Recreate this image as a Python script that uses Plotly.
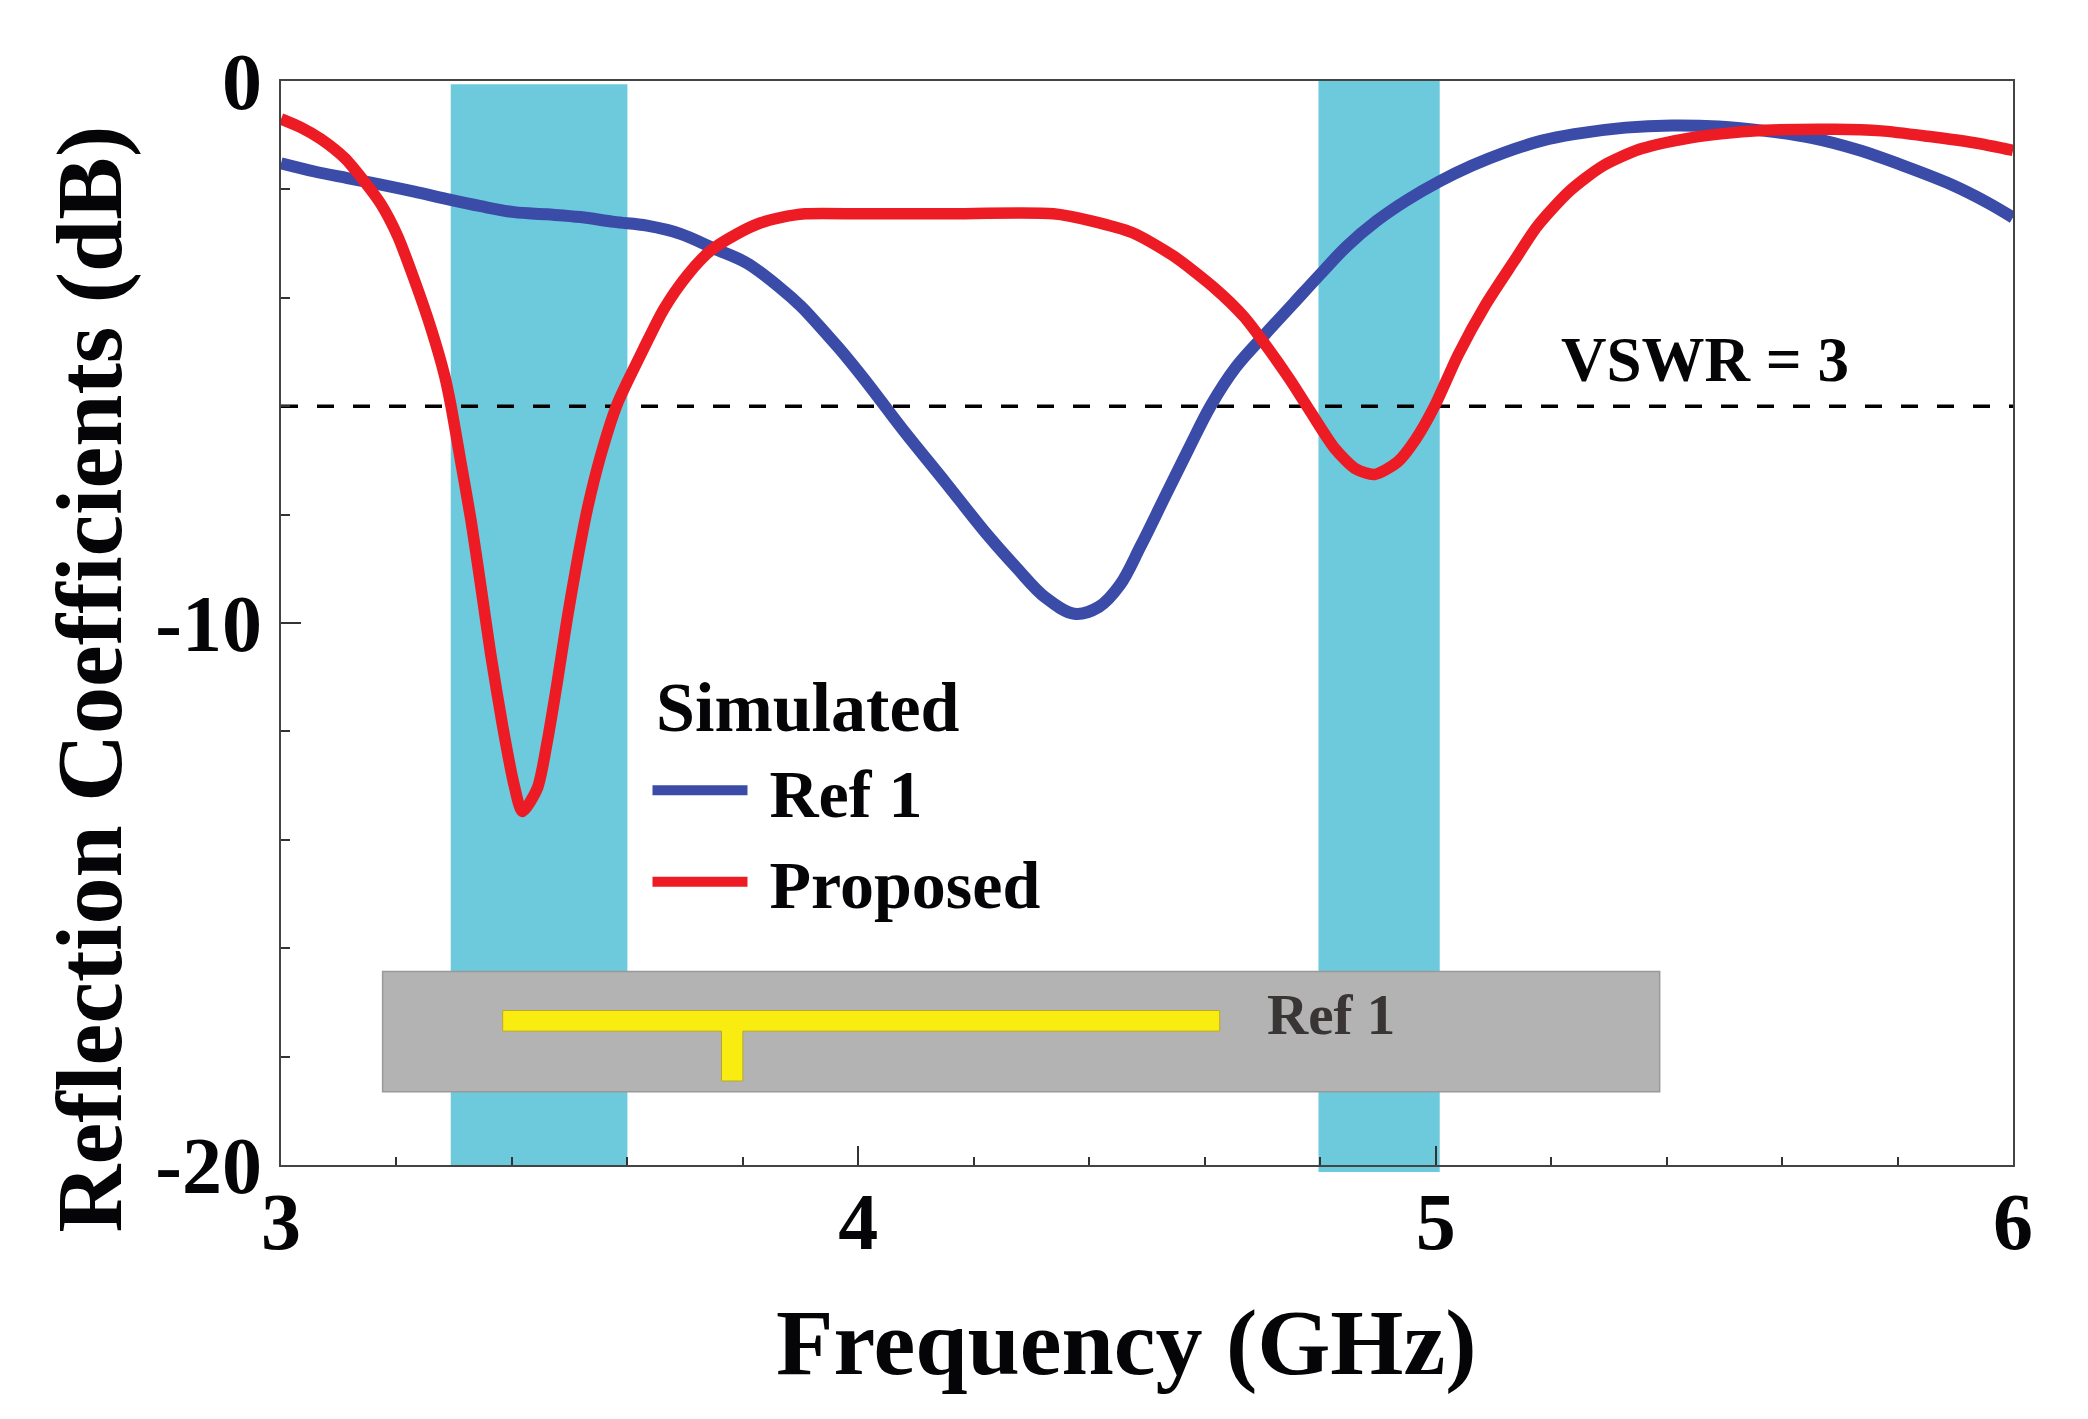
import plotly.graph_objects as go

REF1_GHZ = [3.0, 3.058, 3.115, 3.173, 3.231, 3.288, 3.346, 3.404, 3.461, 3.519, 3.577, 3.634, 3.692, 3.75, 3.807, 3.865,
            3.901, 3.944, 3.973, 4.008, 4.044, 4.08, 4.152, 4.224, 4.274, 4.324, 4.374, 4.417, 4.453, 4.489, 4.532, 4.572,
            4.611, 4.654, 4.704, 4.754, 4.805, 4.846, 4.898, 4.95, 5.007, 5.063, 5.119, 5.184, 5.24, 5.329, 5.409, 5.49,
            5.57, 5.651, 5.731, 5.812, 5.893, 5.957, 6.0]
REF1_DB = [-1.52, -1.67, -1.79, -1.91, -2.04, -2.18, -2.31, -2.42, -2.46, -2.51, -2.6, -2.67, -2.82, -3.09, -3.36, -3.82,
           -4.16, -4.66, -5.01, -5.47, -5.97, -6.47, -7.42, -8.38, -8.98, -9.53, -9.83, -9.7, -9.3, -8.58, -7.65, -6.79,
           -5.98, -5.28, -4.68, -4.1, -3.51, -3.05, -2.58, -2.2, -1.85, -1.56, -1.32, -1.1, -0.98, -0.86, -0.82, -0.84,
           -0.92, -1.05, -1.27, -1.57, -1.91, -2.25, -2.52]

PROPOSED_GHZ = [3.0, 3.035, 3.069, 3.11, 3.144, 3.173, 3.202, 3.231, 3.26, 3.283, 3.294, 3.311, 3.329, 3.346, 3.363, 3.384,
                3.404, 3.418, 3.444, 3.461, 3.479, 3.496, 3.513, 3.531, 3.554, 3.582, 3.6, 3.629, 3.663, 3.704, 3.744, 3.79,
                3.83, 3.865, 3.908, 4.008, 4.152, 4.338, 4.403, 4.475, 4.546, 4.618, 4.668, 4.704, 4.747, 4.783, 4.826, 4.862,
                4.894, 4.934, 4.966, 4.999, 5.039, 5.087, 5.136, 5.176, 5.232, 5.289, 5.353, 5.425, 5.49, 5.57, 5.691, 5.772,
                5.852, 5.933, 6.0]
PROPOSED_DB = [-0.7, -0.86, -1.07, -1.42, -1.85, -2.27, -2.86, -3.67, -4.57, -5.42, -5.97, -7.0, -8.1, -9.31, -10.56, -11.91,
               -13.0, -13.48, -13.05, -12.2, -11.06, -9.9, -8.86, -7.88, -6.9, -5.97, -5.55, -4.92, -4.21, -3.58, -3.13, -2.82,
               -2.62, -2.52, -2.45, -2.45, -2.45, -2.45, -2.58, -2.8, -3.23, -3.83, -4.35, -4.85, -5.5, -6.1, -6.79, -7.16,
               -7.26, -7.03, -6.6, -5.98, -5.05, -4.12, -3.32, -2.68, -2.03, -1.57, -1.26, -1.08, -0.98, -0.91, -0.89, -0.92,
               -1.02, -1.14, -1.28]

X_TICKS = [3, 4, 5, 6]
Y_TICKS = [0, -10, -20]
Y_TICK_LABELS = ["0", "-10", "-20"]
VSWR_DB = -6

SERIF = "Liberation Serif"
INK = "#050508"
AXIS = "#444444"
BAND = "#6CCADC"
STRIP = "#F8EC10"

fig = go.Figure()
fig.add_trace(go.Scatter(x=REF1_GHZ, y=REF1_DB, mode="lines", name="\u00a0Ref 1",
                         line=dict(color="#3A4CA8", width=12, shape="spline", smoothing=1)))
fig.add_trace(go.Scatter(x=PROPOSED_GHZ, y=PROPOSED_DB, mode="lines", name="\u00a0Proposed",
                         line=dict(color="#ED1C24", width=11.5, shape="spline", smoothing=0.7)))

# Operating bands
fig.add_shape(type="rect", xref="x", yref="paper", x0=3.294, x1=3.6, y0=0, y1=0.997,
              fillcolor=BAND, line_width=0, layer="below")
fig.add_shape(type="rect", xref="x", yref="paper", x0=4.797, x1=5.007, y0=-0.0065, y1=1,
              fillcolor=BAND, line_width=0, layer="below")
# VSWR = 3 reference line
fig.add_shape(type="line", xref="paper", yref="y", x0=0, x1=1, y0=VSWR_DB, y1=VSWR_DB,
              line=dict(color="#000000", width=3.5, dash="17px,19px"), layer="below")
# Antenna inset: substrate and T-shaped strip
fig.add_shape(type="rect", x0=3.176, x1=5.388, y0=-16.43, y1=-18.65,
              fillcolor="#B3B3B3", line=dict(color="#999999", width=1.5), layer="below")
fig.add_shape(type="path",
              path="M 3.384 -17.15 L 4.626 -17.15 L 4.626 -17.53 L 3.8 -17.53 L 3.8 -18.45 "
                   "L 3.763 -18.45 L 3.763 -17.53 L 3.384 -17.53 Z",
              fillcolor=STRIP, line=dict(color="#B8A830", width=1), layer="below")

tick_font = dict(family=SERIF, size=80, color=INK, weight=700)
fig.update_xaxes(range=[3, 6], tickvals=X_TICKS, ticks="inside", ticklen=19, tickwidth=2, tickcolor="#333333",
                 minor=dict(dtick=0.2, ticks="inside", ticklen=8, tickwidth=2, tickcolor="#333333", showgrid=False),
                 showgrid=False, zeroline=False, showline=True, mirror=True, linecolor=AXIS, linewidth=2,
                 tickfont=tick_font, ticklabelstandoff=-14)
fig.update_yaxes(range=[-20, 0], tickvals=Y_TICKS, ticktext=Y_TICK_LABELS, ticks="inside", ticklen=20, tickwidth=2,
                 tickcolor="#333333",
                 minor=dict(dtick=2, ticks="inside", ticklen=9, tickwidth=2, tickcolor="#333333", showgrid=False),
                 showgrid=False, zeroline=False, showline=True, mirror=True, linecolor=AXIS, linewidth=2,
                 tickfont=tick_font, ticklabelstandoff=1)

title_font = dict(family=SERIF, size=94, color=INK, weight=700)
fig.add_annotation(text="Frequency (GHz)", xref="paper", yref="paper", x=0.488, y=-0.2133, showarrow=False, font=title_font)
fig.add_annotation(text="Reflection Coefficients (dB)", xref="paper", yref="paper", x=-0.142, y=0.448, textangle=-90,
                   showarrow=False, font=title_font)
fig.add_annotation(text="VSWR = 3", x=5.467, y=-5.15, showarrow=False, font=dict(family=SERIF, size=63, color=INK, weight=700))
fig.add_annotation(text="Ref 1", x=4.818, y=-17.23, showarrow=False, font=dict(family=SERIF, size=57, color="#3A3535", weight=700))
fig.add_annotation(text="Simulated", x=3.912, y=-11.56, showarrow=False, font=dict(family=SERIF, size=70, color=INK, weight=700))

fig.update_layout(
    width=2088, height=1419, margin=dict(l=281, r=75, t=81, b=254, autoexpand=False),
    paper_bgcolor="white", plot_bgcolor="white", showlegend=True,
    legend=dict(x=0.2116, y=0.3924, xanchor="left", yanchor="top", bgcolor="rgba(0,0,0,0)", borderwidth=0,
                itemwidth=95, font=dict(family=SERIF, size=68, color=INK, weight=700)),
)

fig.write_html("out.html", config=dict(displayModeBar=False), post_script="document.body.style.margin='0';")
